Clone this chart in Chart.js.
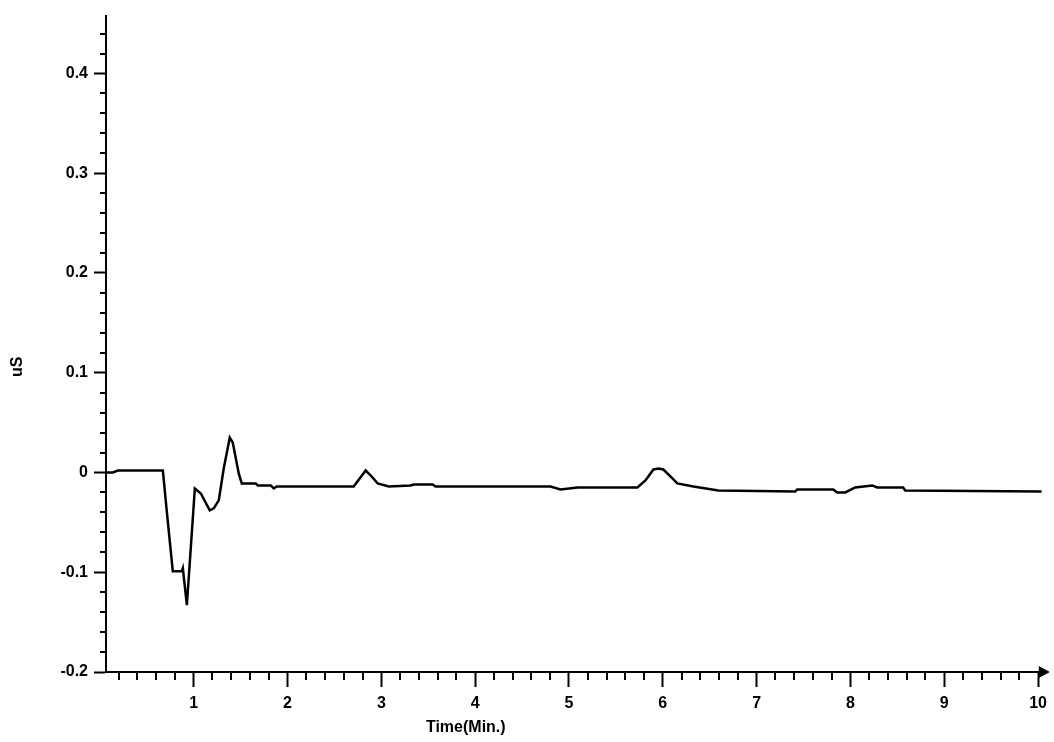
<!DOCTYPE html>
<html>
<head>
<meta charset="utf-8">
<script src="https://cdn.jsdelivr.net/npm/chart.js@4/dist/chart.umd.min.js"></script>
<style>
  html, body { margin: 0; padding: 0; background: #fff; }
  canvas { display: block; }
</style>
</head>
<body>
<canvas id="chart" width="1054" height="742"></canvas>
<script>
// Time (min) and conductance (uS)
const times = [0.064, 0.138, 0.192, 0.671, 0.714, 0.777, 0.873, 0.884, 0.927, 1.012, 1.076, 1.171, 1.214, 1.267, 1.32,
    1.384, 1.416, 1.480, 1.512, 1.661, 1.683, 1.821, 1.853, 1.885, 2.705, 2.833, 2.897, 2.961, 3.078, 3.312,
    3.344, 3.546, 3.578, 4.164, 4.803, 4.909, 5.091, 5.729, 5.815, 5.900, 5.953, 6.006, 6.081, 6.155, 6.326,
    6.592, 7.412, 7.433, 7.817, 7.859, 7.945, 8.051, 8.232, 8.285, 8.562, 8.584, 10.04];
const values = [0.000, 0.000, 0.002, 0.002, -0.040, -0.099, -0.099, -0.096, -0.133, -0.016, -0.021, -0.038, -0.036, -0.028, 0.004,
    0.035, 0.030, -0.001, -0.011, -0.011, -0.013, -0.013, -0.016, -0.014, -0.014, 0.002, -0.004, -0.011, -0.014, -0.013,
    -0.012, -0.012, -0.014, -0.014, -0.014, -0.017, -0.015, -0.015, -0.008, 0.003, 0.004, 0.003, -0.004, -0.011, -0.014,
    -0.018, -0.019, -0.017, -0.017, -0.020, -0.020, -0.015, -0.013, -0.015, -0.015, -0.018, -0.019];

// Axis ticks
const xTicks = [1, 2, 3, 4, 5, 6, 7, 8, 9, 10];
const yTicks = [-0.2, -0.1, 0, 0.1, 0.2, 0.3, 0.4];
const xTitle = 'Time(Min.)';
const yTitle = 'uS';

// minor ticks every 0.2 min and every 0.02 uS
const xMinor = [];
for (let i = 1; i < 50; i++) if (i % 5 !== 0) xMinor.push(i / 5);
const yMinor = [];
for (let i = -9; i <= 22; i++) if (i % 5 !== 0) yMinor.push(i / 50);

const tickFont = { family: 'Liberation Sans', size: 16, weight: 'bold' };

// minor ticks, arrow head and axis titles
const extras = {
    id: 'extras',
    afterDraw(chart) {
        const ctx = chart.ctx;
        const xs = chart.scales.x, ys = chart.scales.y;
        const area = chart.chartArea;
        ctx.save();
        ctx.strokeStyle = '#000';
        ctx.lineWidth = 2;
        ctx.beginPath();
        xMinor.forEach(v => {
            const px = Math.round(xs.getPixelForValue(v));
            ctx.moveTo(px, area.bottom);
            ctx.lineTo(px, area.bottom + 8);
        });
        yMinor.forEach(v => {
            const py = Math.round(ys.getPixelForValue(v));
            ctx.moveTo(area.left - 6, py);
            ctx.lineTo(area.left, py);
        });
        ctx.stroke();

        // arrow at the end of the time axis
        ctx.fillStyle = '#000';
        ctx.beginPath();
        ctx.moveTo(area.right - 3, area.bottom - 6);
        ctx.lineTo(area.right + 8, area.bottom);
        ctx.lineTo(area.right - 3, area.bottom + 6);
        ctx.closePath();
        ctx.fill();

        ctx.font = 'bold 16px "Liberation Sans"';
        ctx.textAlign = 'center';
        ctx.textBaseline = 'middle';
        ctx.fillText(xTitle, xs.getPixelForValue(3.9), 728);

        ctx.translate(18, ys.getPixelForValue(0.106));
        ctx.rotate(-Math.PI / 2);
        ctx.fillText(yTitle, 0, 0);
        ctx.restore();
    }
};

new Chart(document.getElementById('chart'), {
    type: 'line',
    data: {
        datasets: [{
            data: times.map((t, i) => ({ x: t, y: values[i] })),
            borderColor: '#000',
            borderWidth: 2.5,
            pointRadius: 0,
            tension: 0,
            fill: false,
        }],
    },
    options: {
        responsive: false,
        animation: false,
        layout: { padding: { top: 12, right: 10, left: 0, bottom: 0 } },
        plugins: { legend: { display: false }, tooltip: { enabled: false } },
        scales: {
            x: {
                type: 'linear',
                min: 0.065,
                max: 10.04,
                afterBuildTicks: s => { s.ticks = xTicks.map(v => ({ value: v })); },
                afterFit: s => { s.height = 70; },
                grid: { drawOnChartArea: false, tickLength: 15, tickWidth: 2, tickColor: '#000' },
                border: { display: true, color: '#000', width: 2 },
                ticks: { color: '#000', font: tickFont, padding: 7, maxRotation: 0, autoSkip: false },
            },
            y: {
                min: -0.2,
                max: 0.458,
                afterBuildTicks: s => { s.ticks = yTicks.map(v => ({ value: v })); },
                afterFit: s => { s.width = 106; },
                grid: { drawOnChartArea: false, tickLength: 12, tickWidth: 2, tickColor: '#000' },
                border: { display: true, color: '#000', width: 2 },
                ticks: {
                    color: '#000',
                    font: tickFont,
                    padding: 6,
                    autoSkip: false,
                    callback: v => Math.abs(v) < 1e-9 ? '0' : v.toFixed(1),
                },
            },
        },
    },
    plugins: [extras],
});
</script>
</body>
</html>
